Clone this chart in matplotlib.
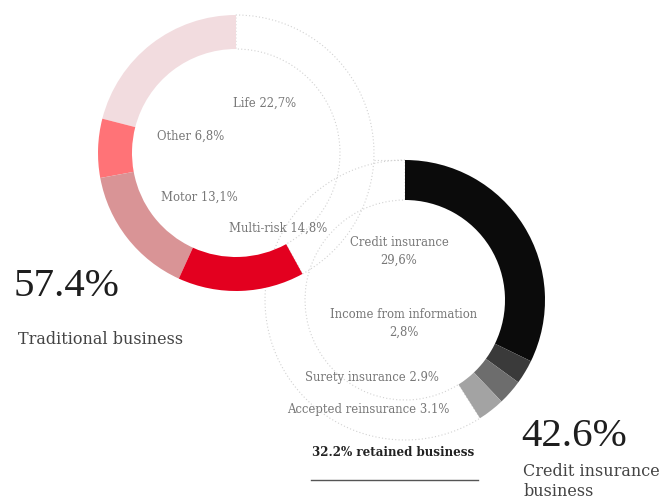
import matplotlib
matplotlib.use("Agg")
import matplotlib.pyplot as plt

# ---- data ----
trad_labels = ["Life", "Other", "Motor", "Multi-risk"]
trad_arc_values = [21.0, 6.9, 15.3, 14.8]   # arc sizes as drawn in the chart
trad_text = ["Life 22,7%", "Other 6,8%", "Motor 13,1%", "Multi-risk 14,8%"]
trad_colors = ["#f2dcdf", "#ff7377", "#d99496", "#e3001f"]
trad_total = 57.4

credit_labels = ["Credit insurance", "Income from information", "Surety insurance", "Accepted reinsurance"]
credit_arc_values = [32.2, 2.8, 2.9, 3.1]   # arc sizes as drawn in the chart
credit_text = ["Credit insurance\n29,6%", "Income from information\n2,8%",
               "Surety insurance 2.9%", "Accepted reinsurance 3.1%"]
credit_colors = ["#0b0b0b", "#3a3a3a", "#6d6d6d", "#a3a3a3"]
credit_total = 42.6
retained = 32.2

W, H = 661, 503
fig = plt.figure(figsize=(W / 100, H / 100), dpi=100)
ax = fig.add_axes([0, 0, 1, 1])

dot_color = "#d2d2d2"
dot_style = (0, (1, 2))


def style_blank(w):
    w.set_facecolor("none")
    w.set_edgecolor(dot_color)
    w.set_linestyle(dot_style)
    w.set_linewidth(0.8)


# top-left donut (traditional business), counter-clockwise from 12 o'clock
vals1 = trad_arc_values + [100 - sum(trad_arc_values)]
w1, _ = ax.pie(vals1, radius=138, center=(236, H - 153), startangle=90,
               counterclock=True, colors=trad_colors + ["none"],
               wedgeprops=dict(width=34, linewidth=0), frame=True)
style_blank(w1[-1])

# bottom-right donut (credit insurance), clockwise from 12 o'clock
vals2 = credit_arc_values + [100 - sum(credit_arc_values)]
w2, _ = ax.pie(vals2, radius=140, center=(405, H - 300), startangle=90,
               counterclock=False, colors=credit_colors + ["none"],
               wedgeprops=dict(width=40, linewidth=0), frame=True)
style_blank(w2[-1])
for w in w1[:-1] + w2[:-1]:
    w.set_zorder(3)

# faint connector
ax.plot([374, 405], [H - 160, H - 160], color=dot_color, lw=0.8, linestyle=dot_style)

ax.set_xlim(0, W)
ax.set_ylim(0, H)
ax.set_aspect("equal")
ax.axis("off")

lab = dict(family="DejaVu Serif", color="#777777", fontsize=8.4, ha="center", va="center")
trad_pos = [(265, 103), (191, 136), (199, 197), (278, 228)]
for t, (x, y) in zip(trad_text, trad_pos):
    ax.text(x, H - y, t, **lab)
credit_pos = [(399, 251), (404, 323), (372, 377), (368, 409)]
for t, (x, y) in zip(credit_text, credit_pos):
    ax.text(x, H - y, t, linespacing=1.5, **lab)

big = dict(family="Liberation Serif", color="#1e1e1e", fontsize=29.5)
ax.text(14, H - 286, f"{trad_total}%", va="center", ha="left", **big)
ax.text(521, H - 436, f"{credit_total}%", va="center", ha="left", **big)

sub = dict(family="DejaVu Serif", color="#444444", fontsize=11.5)
ax.text(18, H - 339, "Traditional business", va="center", ha="left", **sub)
ax.text(523, H - 471, "Credit insurance", va="center", ha="left", **sub)
ax.text(523, H - 492, "business", va="center", ha="left", **sub)

ax.text(393, H - 452, f"{retained}% retained business", family="DejaVu Serif",
        fontsize=8.6, fontweight="bold", color="#222222", ha="center", va="center")
ax.plot([311, 478], [H - 480, H - 480], color="#555555", lw=1)

fig.savefig("out.png", dpi=100)
